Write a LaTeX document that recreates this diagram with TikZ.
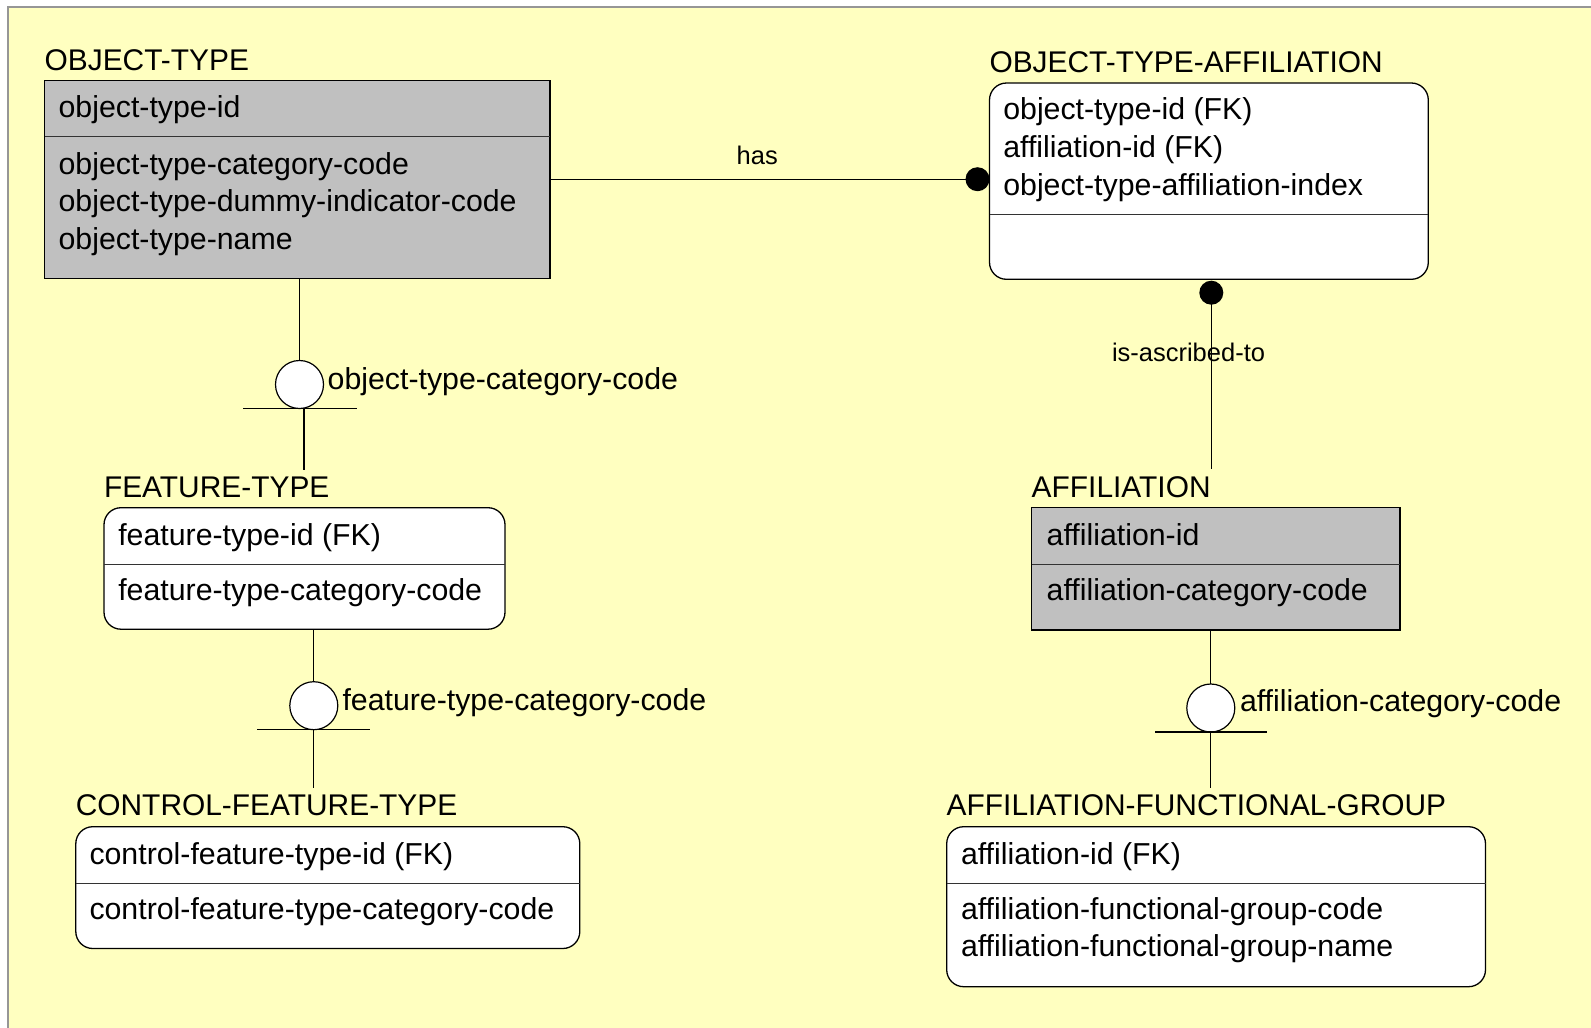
\documentclass[tikz,border=0pt]{standalone}
\usepackage{fontspec}
\setmainfont{Liberation Sans}
\definecolor{bgyellow}{RGB}{255,255,192}
\definecolor{entgray}{RGB}{192,192,192}
\definecolor{framegray}{RGB}{150,150,150}
\begin{document}
\begin{tikzpicture}[x=1pt,y=-1pt,
  every node/.style={inner sep=0pt,outer sep=0pt},
  sqbox/.style={draw=black,line width=1.3pt,fill=entgray,anchor=north west},
  rbox/.style={draw=black,line width=1.3pt,fill=white,rounded corners=17pt,anchor=north west},
  etitle/.style={anchor=base west,font=\fontsize{29.9}{36}\selectfont},
  attr/.style={anchor=base west,font=\fontsize{30.3}{36}\selectfont},
  rel/.style={anchor=base west,font=\fontsize{25.5}{30}\selectfont},
  dot/.style={circle,fill=black,minimum size=24pt},
  catc/.style={circle,draw=black,line width=1.2pt,fill=white,minimum size=48pt},
  conn/.style={draw=black,line width=1.2pt},
  sepline/.style={draw=black!80,line width=1.3pt}
]
\useasboundingbox (0,0) rectangle (1591,1028);
\fill[white] (0,0) rectangle (1591,1028);
\fill[bgyellow] (8,7) rectangle (1591,1028);
\draw[framegray,line width=2pt] (8,1028) -- (8,7) -- (1591,7);

% ---------- OBJECT-TYPE ----------
\node[etitle] (otT) at (44.6,70.2) {OBJECT-TYPE};
\node[sqbox,minimum width=505.4pt,minimum height=198pt] (ot) at (44.6,80.2) {};
\draw[sepline] (ot.west |- 0,136.7) -- (ot.east |- 0,136.7);
\node[attr] (ot1) at (58.6,117.7) {object-type-id};
\node[attr] (ot2) at (58.6,174.3) {object-type-category-code};
\node[attr] (ot3) at (58.6,211.9) {object-type-dummy-indicator-code};
\node[attr] (ot4) at (58.6,249.4) {object-type-name};

% ---------- OBJECT-TYPE-AFFILIATION ----------
\node[etitle] (otaT) at (989.5,72.4) {OBJECT-TYPE-AFFILIATION};
\node[rbox,minimum width=438.8pt,minimum height=196.3pt] (ota) at (989.5,83) {};
\draw[sepline] (ota.west |- 0,214.3) -- (ota.east |- 0,214.3);
\node[attr] (ota1) at (1003.3,119.3) {object-type-id (FK)};
\node[attr] (ota2) at (1003.3,157) {affiliation-id (FK)};
\node[attr] (ota3) at (1003.3,195) {object-type-affiliation-index};

% ---------- FEATURE-TYPE ----------
\node[etitle] (ftT) at (104,497.2) {FEATURE-TYPE};
\node[rbox,minimum width=401pt,minimum height=121.5pt] (ft) at (104,507.7) {};
\draw[sepline] (ft.west |- 0,564.3) -- (ft.east |- 0,564.3);
\node[attr] (ft1) at (118.3,545) {feature-type-id (FK)};
\node[attr] (ft2) at (118.3,600.5) {feature-type-category-code};

% ---------- AFFILIATION ----------
\node[etitle] (affT) at (1031.7,497.2) {AFFILIATION};
\node[sqbox,minimum width=368.3pt,minimum height=122.3pt] (aff) at (1031.7,507.7) {};
\draw[sepline] (aff.west |- 0,564.3) -- (aff.east |- 0,564.3);
\node[attr] (aff1) at (1046.7,545) {affiliation-id};
\node[attr] (aff2) at (1046.7,600.5) {affiliation-category-code};

% ---------- CONTROL-FEATURE-TYPE ----------
\node[etitle] (cftT) at (75.8,815.7) {CONTROL-FEATURE-TYPE};
\node[rbox,minimum width=504pt,minimum height=121.8pt] (cft) at (75.8,826.7) {};
\draw[sepline] (cft.west |- 0,883.3) -- (cft.east |- 0,883.3);
\node[attr] (cft1) at (89.5,864) {control-feature-type-id (FK)};
\node[attr] (cft2) at (89.5,919.5) {control-feature-type-category-code};

% ---------- AFFILIATION-FUNCTIONAL-GROUP ----------
\node[etitle] (afgT) at (946.7,815.7) {AFFILIATION-FUNCTIONAL-GROUP};
\node[rbox,minimum width=538.8pt,minimum height=160pt] (afg) at (946.7,826.7) {};
\draw[sepline] (afg.west |- 0,883.3) -- (afg.east |- 0,883.3);
\node[attr] (afg1) at (961,864) {affiliation-id (FK)};
\node[attr] (afg2) at (961,919.5) {affiliation-functional-group-code};
\node[attr] (afg3) at (961,956.5) {affiliation-functional-group-name};

% ---------- relationship: has ----------
\node[dot,anchor=east] (hasdot) at (ota.west |- ot.east) {};
\draw[conn] (ot.east) -- (hasdot.center);
\node[rel] (hasL) at (736.7,164.5) {has};

% ---------- relationship: is-ascribed-to ----------
\node[rel] (iaL) at (1112,361.2) {is-ascribed-to};
\node[dot] (iadot) at (1211.3,292.7) {};
\coordinate (affTop) at (1211.3,469);
\draw[conn] (iadot.center) -- (affTop);

% ---------- category: object-type-category-code ----------
\node[catc] (c1) at (299.5,384.5) {};
\coordinate (c1bl) at (243,408.3);
\coordinate (c1br) at (357,408.3);
\coordinate (c1lo) at (304,408.3);
\coordinate (ftTop) at (304,469.5);
\draw[conn] (ot.south -| c1) -- (c1.north);
\draw[conn] (c1bl) -- (c1br);
\draw[conn] (c1lo) -- (ftTop);
\node[attr] (c1L) at (327.7,389) {object-type-category-code};

% ---------- category: feature-type-category-code ----------
\node[catc] (c2) at (313.8,705.7) {};
\coordinate (c2bl) at (257.3,729.5);
\coordinate (c2br) at (370,729.5);
\coordinate (cftTop) at (313.8,788);
\draw[conn] (ft.south -| c2) -- (c2.north);
\draw[conn] (c2bl) -- (c2br);
\draw[conn] (c2.south) -- (cftTop);
\node[attr] (c2L) at (342.5,710) {feature-type-category-code};

% ---------- category: affiliation-category-code ----------
\node[catc] (c3) at (1210.8,708) {};
\coordinate (c3bl) at (1155,732);
\coordinate (c3br) at (1267,732);
\coordinate (afgTop) at (1210.8,788);
\draw[conn] (aff.south -| c3) -- (c3.north);
\draw[conn] (c3bl) -- (c3br);
\draw[conn] (c3.south) -- (afgTop);
\node[attr] (c3L) at (1240,711.7) {affiliation-category-code};
\end{tikzpicture}
\end{document}
